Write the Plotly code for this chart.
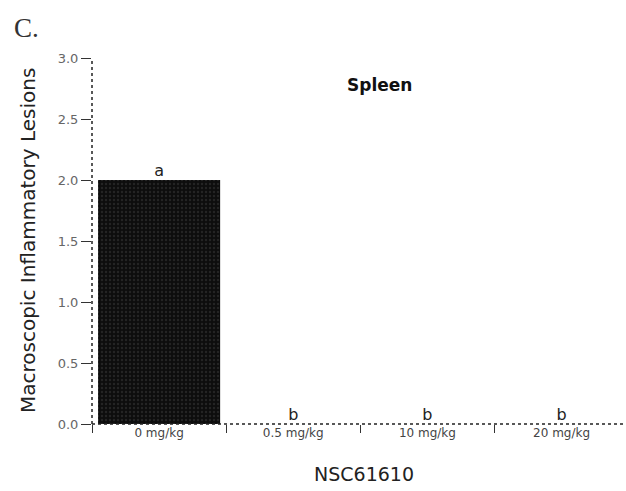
import plotly.graph_objects as go

categories = ["0 mg/kg", "0.5 mg/kg", "10 mg/kg", "20 mg/kg"]
values = [2.0, 0.0, 0.0, 0.0]
letters = ["a", "b", "b", "b"]
y_ticks = [0.0, 0.5, 1.0, 1.5, 2.0, 2.5, 3.0]

FONT = "DejaVu Sans"

fig = go.Figure()
fig.add_trace(go.Bar(
    x=categories, y=values, width=0.91,
    marker=dict(color="#111111", line=dict(width=0),
                pattern=dict(shape=".", fgcolor="#3a3a3a", bgcolor="#0d0d0d", size=4, solidity=0.3)),
    showlegend=False,
))
fig.add_trace(go.Scatter(
    x=categories, y=values, mode="text", text=letters,
    textposition="top center", textfont=dict(size=16, color="#222", family=FONT),
    showlegend=False, cliponaxis=False,
))

fig.update_layout(
    width=626, height=491,
    margin=dict(l=92, r=0, t=58, b=67),
    paper_bgcolor="white", plot_bgcolor="white",
    font=dict(family=FONT, color="#222"),
    xaxis=dict(
        range=[-0.5, 3.48], showline=False, showgrid=False, zeroline=False,
        ticks="outside", tickson="boundaries", ticklen=8, tickcolor="#333", tickwidth=1,
        tickfont=dict(size=12, color="#444"),
    ),
    yaxis=dict(
        range=[0, 3.0], tickvals=y_ticks, ticktext=[f"{v:.1f}" for v in y_ticks],
        showline=False, showgrid=False, zeroline=False,
        ticks="outside", ticklen=10, tickcolor="#333", tickwidth=1,
        tickfont=dict(size=13, color="#666"),
    ),
    shapes=[
        dict(type="line", xref="paper", yref="paper", x0=0, x1=1, y0=0, y1=0,
             line=dict(color="#222", width=1.5, dash="dot")),
        dict(type="line", xref="paper", yref="paper", x0=0, x1=0, y0=0, y1=1,
             line=dict(color="#222", width=1.5, dash="dot")),
    ],
    annotations=[
        dict(text="<b>Spleen</b>", xref="paper", yref="paper", x=0.539, y=0.96,
             showarrow=False, font=dict(size=17, color="#111")),
        dict(text="C.", xref="paper", yref="paper", x=-0.15, y=1.082, xanchor="left", yanchor="middle",
             showarrow=False, font=dict(size=27, family="Liberation Serif", color="#333")),
        dict(text="Macroscopic Inflammatory Lesions", xref="paper", yref="paper",
             x=-0.146, y=0.5, textangle=-90, showarrow=False,
             font=dict(size=20, color="#222")),
        dict(text="NSC61610", xref="paper", yref="paper", x=0.509, y=-0.172,
             showarrow=False, font=dict(size=19, color="#222")),
    ],
)

fig.write_html("out.html")
